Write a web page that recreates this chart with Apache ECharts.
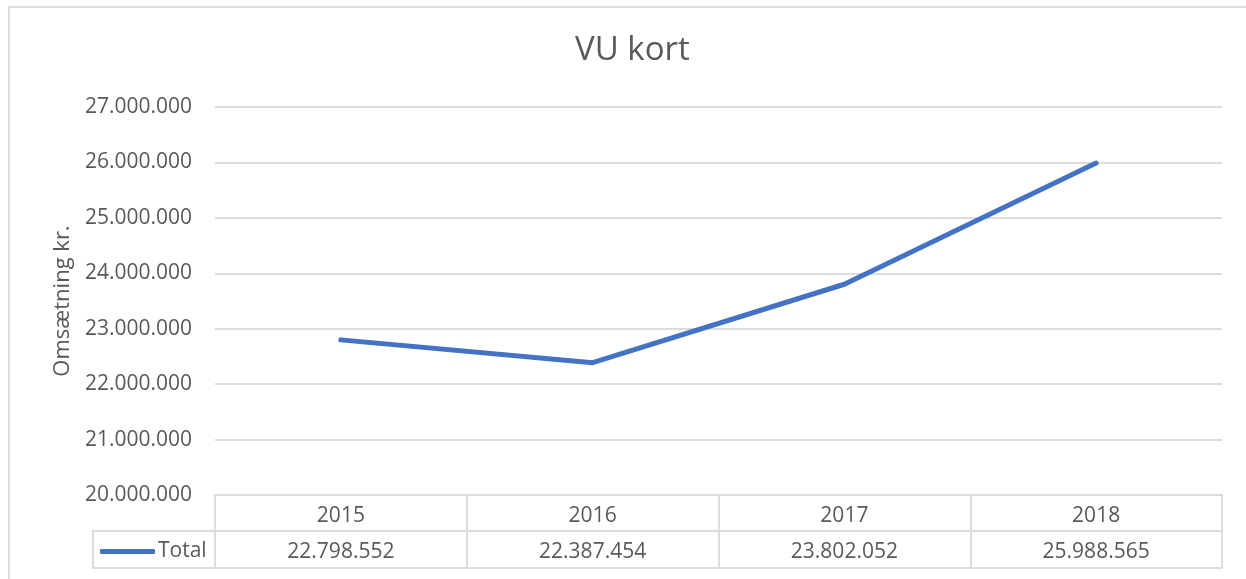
<!DOCTYPE html>
<html lang="da">
<head>
    <meta charset="UTF-8">
    <title>VU kort</title>
    <script src="https://cdn.jsdelivr.net/npm/echarts@6.0.0/dist/echarts.min.js"></script>
    <style>
        html, body { margin: 0; padding: 0; background: #fff; }
        #chart { width: 1246px; height: 579px; }
    </style>
</head>
<body>
    <div id="chart"></div>
    <script>
        // data
        const years = ['2015', '2016', '2017', '2018'];
        const total = [22798552, 22387454, 23802052, 25988565];
        const seriesName = 'Total';
        const yMin = 20000000;
        const yMax = 27000000;
        const yStep = 1000000;

        const textColor = '#595959';
        const gridColor = '#dcdcdc';
        const font = '"Open Sans", "Liberation Sans", sans-serif';

        // 22798552 -> 22.798.552
        function fmt(v) {
            return String(Math.round(v)).replace(/\B(?=(\d{3})+(?!\d))/g, '.');
        }

        const chart = echarts.init(document.getElementById('chart'));
        chart.setOption({
            animation: false,
            textStyle: { fontFamily: font },
            title: {
                text: 'VU kort',
                left: 575,
                top: 34,
                padding: 0,
                textStyle: { fontSize: 33, fontWeight: 'normal', color: textColor, fontFamily: font }
            },
            legend: {
                left: 100,
                top: 541,
                padding: 0,
                icon: 'roundRect',
                itemWidth: 55,
                itemHeight: 5,
                itemGap: 4,
                textStyle: { fontSize: 21, color: textColor, padding: [0, 0, 0, -2] },
                data: [seriesName]
            },
            grid: { left: 215, right: 24, top: 107, bottom: 84 },
            xAxis: [
                {
                    type: 'category',
                    data: years,
                    boundaryGap: true,
                    axisLine: { lineStyle: { color: gridColor, width: 2 } },
                    axisTick: { show: true, length: 73, lineStyle: { color: gridColor, width: 2 } },
                    axisLabel: { margin: 11, fontSize: 21, color: textColor }
                },
                {
                    type: 'category',
                    data: years,
                    position: 'bottom',
                    offset: 36,
                    boundaryGap: true,
                    axisLine: { lineStyle: { color: gridColor, width: 2 } },
                    axisTick: { show: false },
                    axisLabel: {
                        margin: 11, fontSize: 21, color: textColor,
                        formatter: (v, i) => fmt(total[i])
                    }
                },
                {
                    type: 'category',
                    data: years,
                    position: 'bottom',
                    offset: 73,
                    axisLine: { lineStyle: { color: gridColor, width: 2 } },
                    axisTick: { show: false },
                    axisLabel: { show: false }
                }
            ],
            yAxis: {
                type: 'value',
                min: yMin,
                max: yMax,
                interval: yStep,
                name: 'Omsætning kr.',
                nameLocation: 'middle',
                nameRotate: 90,
                nameGap: 141,
                nameTextStyle: { fontSize: 22, color: textColor },
                axisLine: { show: false },
                axisTick: { show: false },
                splitLine: { lineStyle: { color: gridColor, width: 2 } },
                axisLabel: { margin: 23, fontSize: 21, color: textColor, formatter: v => fmt(v) }
            },
            series: [{
                name: seriesName,
                type: 'line',
                xAxisIndex: 0,
                data: total,
                symbol: 'none',
                itemStyle: { color: '#4472C4' },
                lineStyle: { color: '#4472C4', width: 5, cap: 'round', join: 'round' }
            }],
            graphic: [
                // outer chart frame
                { type: 'rect', shape: { x: 9, y: 7, width: 1260, height: 620 },
                  style: { fill: null, stroke: gridColor, lineWidth: 2 }, silent: true },
                // legend cell of the data table
                { type: 'polyline', shape: { points: [[215, 531], [93, 531], [93, 568], [215, 568]] },
                  style: { fill: null, stroke: gridColor, lineWidth: 2 }, silent: true }
            ]
        });
    </script>
</body>
</html>
